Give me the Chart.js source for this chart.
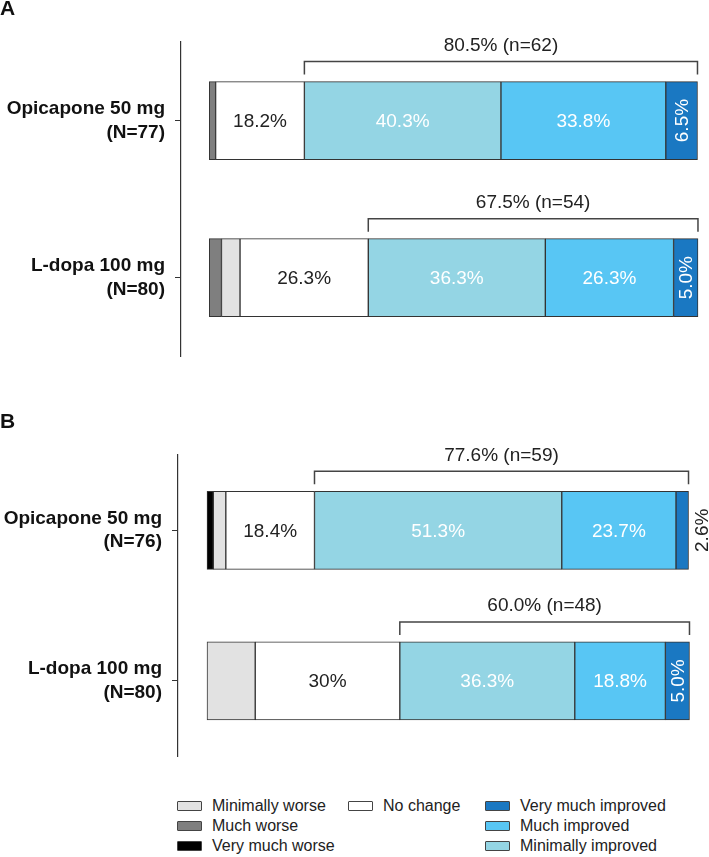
<!DOCTYPE html>
<html>
<head>
<meta charset="utf-8">
<script src="https://cdn.jsdelivr.net/npm/chart.js@4.4.1/dist/chart.umd.min.js"></script>
<style>
  body { margin: 0; background: #fff; }
  #page { position: relative; width: 709px; height: 857px; overflow: hidden; font-family: 'Liberation Sans', Arial, sans-serif; }
  canvas { position: absolute; left: 0; }
  .lg { position: absolute; display: flex; align-items: center; font-size: 16px; color: #222; white-space: nowrap; height: 20px; }
  .sw { width: 23px; height: 8px; border: 1px solid #444; border-radius: 1px; margin-right: 10px; }
</style>
</head>
<body>
<div id="page">
  <canvas id="chartA" width="709" height="390" style="top:0"></canvas>
  <canvas id="chartB" width="709" height="400" style="top:390px"></canvas>
</div>
<script>
// response levels, left to right in each bar
const levelNames = ['Very much worse', 'Much worse', 'Minimally worse', 'No change',
  'Minimally improved', 'Much improved', 'Very much improved'];
const levelColors = ['#000000', '#7f7f7f', '#e2e2e2', '#ffffff', '#94d5e4', '#58c6f4', '#1a78c2'];
// label style per level: null = no label
const levelLabel = [null, null, null, 'dark', 'light', 'light', 'rotated'];

// Panel A
const categoriesA = [['Opicapone 50 mg', '(N=77)'], ['L-dopa 100 mg', '(N=80)']];
const veryMuchWorseA = [0, 0];
const muchWorseA = [1.3, 2.5];
const minimallyWorseA = [0, 3.8];
const noChangeA = [18.2, 26.3];
const minimallyImprovedA = [40.3, 36.3];
const muchImprovedA = [33.8, 26.3];
const veryMuchImprovedA = [6.5, 5.0];
const respondersA = ['80.5% (n=62)', '67.5% (n=54)'];

// Panel B
const categoriesB = [['Opicapone 50 mg', '(N=76)'], ['L-dopa 100 mg', '(N=80)']];
const veryMuchWorseB = [1.3, 0];
const muchWorseB = [0, 0];
const minimallyWorseB = [2.6, 10.0];
const noChangeB = [18.4, 30];
const minimallyImprovedB = [51.3, 36.3];
const muchImprovedB = [23.7, 18.8];
const veryMuchImprovedB = [2.6, 5.0];
const respondersB = ['77.6% (n=59)', '60.0% (n=48)'];

const FONT = "'Liberation Sans', Arial, sans-serif";

// brackets, segment labels, panel letter
const panelDecor = {
  id: 'panelDecor',
  afterDatasetsDraw(chart, args, opts) {
    const ctx = chart.ctx;
    const xs = chart.scales.x;
    const n = chart.data.datasets.length;
    ctx.save();

    // segment labels
    chart.data.datasets.forEach((ds, di) => {
      const mode = levelLabel[di];
      if (!mode) return;
      chart.getDatasetMeta(di).data.forEach((bar, i) => {
        const v = ds.data[i];
        if (!v) return;
        const left = Math.min(bar.x, bar.base), right = Math.max(bar.x, bar.base);
        let cx = (left + right) / 2;
        const cy = bar.y;
        ctx.font = '19px ' + FONT;
        ctx.textAlign = 'center';
        ctx.textBaseline = 'middle';
        if (mode === 'rotated') {
          const txt = v.toFixed(1) + '%';
          ctx.fillStyle = '#fff';
          if (right - left < 16) { cx = right + 13; ctx.fillStyle = '#222'; }
          ctx.save();
          ctx.translate(cx, cy);
          ctx.rotate(-Math.PI / 2);
          ctx.fillText(txt, 0, 1);
          ctx.restore();
        } else {
          ctx.fillStyle = mode === 'dark' ? '#222' : '#fff';
          ctx.fillText(String(v) + '%', cx, cy + 1);
        }
      });
    });

    // responder brackets
    const lastMeta = chart.getDatasetMeta(n - 1);
    opts.responders.forEach((txt, i) => {
      let start = 0;
      for (let d = 0; d < 4; d++) start += chart.data.datasets[d].data[i] || 0;
      const x0 = xs.getPixelForValue(start);
      const bar = lastMeta.data[i];
      const x1 = bar.x;
      const top = bar.y - bar.height / 2;
      ctx.strokeStyle = '#444';
      ctx.lineWidth = 1.5;
      ctx.beginPath();
      ctx.moveTo(x0, top - 7);
      ctx.lineTo(x0, top - 20);
      ctx.lineTo(x1, top - 20);
      ctx.lineTo(x1, top - 7);
      ctx.stroke();
      ctx.fillStyle = '#222';
      ctx.font = '19px ' + FONT;
      ctx.textAlign = 'center';
      ctx.textBaseline = 'middle';
      ctx.fillText(txt, (x0 + x1) / 2, top - 36);
    });

    // panel letter
    ctx.fillStyle = '#111';
    ctx.font = 'bold 21px ' + FONT;
    ctx.textAlign = 'left';
    ctx.textBaseline = 'alphabetic';
    ctx.fillText(opts.letter, 0, opts.letterY);
    ctx.restore();
  }
};

function makeChart(id, categories, series, responders, cfg) {
  return new Chart(document.getElementById(id), {
    type: 'bar',
    data: {
      labels: categories,
      datasets: series.map((arr, k) => ({
        label: levelNames[k],
        data: arr.map(v => v || null),
        backgroundColor: levelColors[k],
        borderColor: '#333',
        borderWidth: 1,
        borderSkipped: false,
        barThickness: 78,
        clip: false
      }))
    },
    options: {
      indexAxis: 'y',
      responsive: false,
      animation: false,
      devicePixelRatio: 1,
      layout: { padding: { top: cfg.top, bottom: cfg.bottom, right: cfg.right, left: 0 } },
      plugins: {
        legend: { display: false },
        tooltip: { enabled: false },
        panelDecor: { responders: responders, letter: cfg.letter, letterY: cfg.letterY }
      },
      scales: {
        x: { stacked: true, display: false, min: cfg.xMin, max: 100 },
        y: {
          stacked: true,
          grid: { drawOnChartArea: false, drawTicks: true, tickLength: 6, color: '#333', offset: false },
          border: { display: true, color: '#333', width: 1.2 },
          ticks: {
            font: { family: FONT, size: 19, weight: 'bold', lineHeight: 1.25 },
            color: '#111',
            padding: 10
          },
          afterFit(scale) { scale.width = cfg.axisX; }
        }
      }
    },
    plugins: [panelDecor]
  });
}

makeChart('chartA', categoriesA,
  [veryMuchWorseA, muchWorseA, minimallyWorseA, noChangeA, minimallyImprovedA, muchImprovedA, veryMuchImprovedA],
  respondersA,
  { top: 42, bottom: 33, right: 12, axisX: 181, xMin: -5.8, letter: 'A', letterY: 15 });

makeChart('chartB', categoriesB,
  [veryMuchWorseB, muchWorseB, minimallyWorseB, noChangeB, minimallyImprovedB, muchImprovedB, veryMuchImprovedB],
  respondersB,
  { top: 65, bottom: 20, right: 20, axisX: 178, xMin: -6.02, letter: 'B', letterY: 38 });

// legend: three columns
const legendLayout = [
  { level: 2, x: 177, y: 796 }, { level: 1, x: 177, y: 816 }, { level: 0, x: 177, y: 836 },
  { level: 3, x: 348, y: 796 },
  { level: 6, x: 485, y: 796 }, { level: 5, x: 485, y: 816 }, { level: 4, x: 485, y: 836 }
];
const page = document.getElementById('page');
legendLayout.forEach(item => {
  const div = document.createElement('div');
  div.className = 'lg';
  div.style.left = item.x + 'px';
  div.style.top = item.y + 'px';
  div.innerHTML = `<span class="sw" style="background:${levelColors[item.level]}"></span>${levelNames[item.level]}`;
  page.appendChild(div);
});
</script>
</body>
</html>
